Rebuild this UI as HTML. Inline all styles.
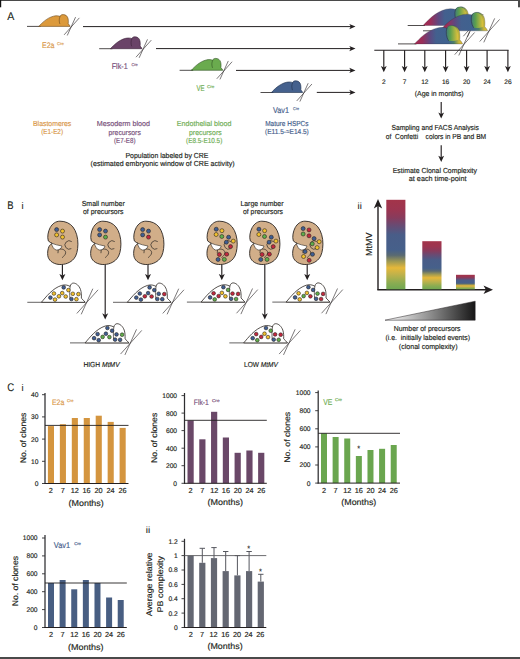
<!DOCTYPE html><html><head><meta charset="utf-8"><title>Figure</title><style>html,body{margin:0;padding:0;background:#fff;width:520px;height:659px;overflow:hidden}svg{display:block}text{font-family:"Liberation Sans",sans-serif}</style></head><body>
<svg width="520" height="659" viewBox="0 0 520 659" text-rendering="geometricPrecision">
<defs><linearGradient id="gbody" x1="0" y1="0" x2="1" y2="0"><stop offset="0" stop-color="#a62a50"/><stop offset="0.16" stop-color="#9a2d58"/><stop offset="0.32" stop-color="#5e4880"/><stop offset="0.45" stop-color="#43608e"/><stop offset="0.70" stop-color="#3f628f"/><stop offset="0.82" stop-color="#4c8068"/><stop offset="0.92" stop-color="#c4b43a"/><stop offset="1" stop-color="#e8c23a"/></linearGradient><linearGradient id="gear" x1="0" y1="0" x2="1" y2="0"><stop offset="0" stop-color="#3f7a7c"/><stop offset="0.35" stop-color="#5c9f4e"/><stop offset="1" stop-color="#e3c23a"/></linearGradient><linearGradient id="gbar" x1="0" y1="0" x2="0" y2="1"><stop offset="0" stop-color="#a3344a"/><stop offset="0.11" stop-color="#9c3550"/><stop offset="0.20" stop-color="#883b5c"/><stop offset="0.28" stop-color="#6a4a72"/><stop offset="0.39" stop-color="#495d88"/><stop offset="0.56" stop-color="#46608a"/><stop offset="0.62" stop-color="#5a6a72"/><stop offset="0.69" stop-color="#a09a52"/><stop offset="0.76" stop-color="#e6b83a"/><stop offset="0.83" stop-color="#c2b24a"/><stop offset="0.93" stop-color="#8aac52"/><stop offset="1" stop-color="#70a852"/></linearGradient><linearGradient id="gtri" x1="0" y1="0" x2="1" y2="0"><stop offset="0" stop-color="#ffffff"/><stop offset="0.45" stop-color="#9a9a9a"/><stop offset="1" stop-color="#161616"/></linearGradient></defs>
<rect x="0" y="0" width="520" height="659" fill="#ffffff"/>
<text x="7.20" y="20.40" font-size="11.2" fill="#231f20" stroke="#231f20" stroke-width="0.096" text-anchor="start" textLength="7.10" lengthAdjust="spacingAndGlyphs">A</text>
<line x1="27.00" y1="26.40" x2="40.70" y2="26.40" stroke="#231f20" stroke-width="0.8"/>
<g transform="translate(38.70,26.40) scale(0.3140,0.1180)"><path d="M0,0 C10,-26 25,-72 48,-87 C56,-92 63,-90 68,-85 C69,-95 73,-100 78,-100 C86,-100 92,-86 93.5,-66 C95,-46 94.5,-32 94,-22 C97,-15 99,-7 100,0 Z" fill="#dc9a3c" stroke="#6b4a20" stroke-width="0.6" vector-effect="non-scaling-stroke"/><path d="M68.5,-86 C64.5,-66 64.5,-42 67.5,-20" fill="none" stroke="#6b4a20" stroke-width="0.6" vector-effect="non-scaling-stroke"/></g>
<line x1="64.12" y1="34.85" x2="79.35" y2="17.89" stroke="#231f20" stroke-width="0.6"/>
<line x1="67.26" y1="35.48" x2="75.58" y2="17.11" stroke="#231f20" stroke-width="0.6"/>
<line x1="99.20" y1="48.70" x2="112.40" y2="48.70" stroke="#231f20" stroke-width="0.8"/>
<g transform="translate(110.40,48.70) scale(0.3160,0.1190)"><path d="M0,0 C10,-26 25,-72 48,-87 C56,-92 63,-90 68,-85 C69,-95 73,-100 78,-100 C86,-100 92,-86 93.5,-66 C95,-46 94.5,-32 94,-22 C97,-15 99,-7 100,0 Z" fill="#6a4368" stroke="#3a2238" stroke-width="0.6" vector-effect="non-scaling-stroke"/><path d="M68.5,-86 C64.5,-66 64.5,-42 67.5,-20" fill="none" stroke="#3a2238" stroke-width="0.6" vector-effect="non-scaling-stroke"/></g>
<line x1="135.98" y1="57.20" x2="151.31" y2="40.14" stroke="#231f20" stroke-width="0.6"/>
<line x1="139.14" y1="57.83" x2="147.51" y2="39.35" stroke="#231f20" stroke-width="0.6"/>
<line x1="179.60" y1="70.30" x2="193.20" y2="70.30" stroke="#231f20" stroke-width="0.8"/>
<g transform="translate(191.20,70.30) scale(0.3160,0.1190)"><path d="M0,0 C10,-26 25,-72 48,-87 C56,-92 63,-90 68,-85 C69,-95 73,-100 78,-100 C86,-100 92,-86 93.5,-66 C95,-46 94.5,-32 94,-22 C97,-15 99,-7 100,0 Z" fill="#6aab4e" stroke="#2f5224" stroke-width="0.6" vector-effect="non-scaling-stroke"/><path d="M68.5,-86 C64.5,-66 64.5,-42 67.5,-20" fill="none" stroke="#2f5224" stroke-width="0.6" vector-effect="non-scaling-stroke"/></g>
<line x1="216.78" y1="78.80" x2="232.11" y2="61.74" stroke="#231f20" stroke-width="0.6"/>
<line x1="219.94" y1="79.43" x2="228.31" y2="60.95" stroke="#231f20" stroke-width="0.6"/>
<line x1="260.50" y1="92.50" x2="273.30" y2="92.50" stroke="#231f20" stroke-width="0.8"/>
<g transform="translate(271.30,92.50) scale(0.3140,0.1170)"><path d="M0,0 C10,-26 25,-72 48,-87 C56,-92 63,-90 68,-85 C69,-95 73,-100 78,-100 C86,-100 92,-86 93.5,-66 C95,-46 94.5,-32 94,-22 C97,-15 99,-7 100,0 Z" fill="#45618d" stroke="#1f2f4a" stroke-width="0.6" vector-effect="non-scaling-stroke"/><path d="M68.5,-86 C64.5,-66 64.5,-42 67.5,-20" fill="none" stroke="#1f2f4a" stroke-width="0.6" vector-effect="non-scaling-stroke"/></g>
<line x1="296.72" y1="100.95" x2="311.95" y2="83.99" stroke="#231f20" stroke-width="0.6"/>
<line x1="299.86" y1="101.58" x2="308.18" y2="83.21" stroke="#231f20" stroke-width="0.6"/>
<line x1="83.00" y1="26.60" x2="351.10" y2="26.60" stroke="#231f20" stroke-width="1.0"/>
<path d="M355.50,26.60 L349.30,29.20 L350.80,26.60 L349.30,24.00 Z" fill="#231f20"/>
<line x1="156.00" y1="48.60" x2="351.10" y2="48.60" stroke="#231f20" stroke-width="1.0"/>
<path d="M355.50,48.60 L349.30,51.20 L350.80,48.60 L349.30,46.00 Z" fill="#231f20"/>
<line x1="236.00" y1="70.40" x2="351.10" y2="70.40" stroke="#231f20" stroke-width="1.0"/>
<path d="M355.50,70.40 L349.30,73.00 L350.80,70.40 L349.30,67.80 Z" fill="#231f20"/>
<line x1="316.80" y1="92.40" x2="351.10" y2="92.40" stroke="#231f20" stroke-width="1.0"/>
<path d="M355.50,92.40 L349.30,95.00 L350.80,92.40 L349.30,89.80 Z" fill="#231f20"/>
<text x="42.00" y="47.50" font-size="8.2" fill="#d9984a" stroke="#d9984a" stroke-width="0.16" text-anchor="start" textLength="12.50" lengthAdjust="spacingAndGlyphs">E2a</text>
<text x="57.10" y="44.60" font-size="4.2" fill="#d9984a" stroke="#d9984a" stroke-width="0.16" text-anchor="start" textLength="6.70" lengthAdjust="spacingAndGlyphs">Cre</text>
<text x="111.70" y="69.40" font-size="8.2" fill="#78507a" stroke="#78507a" stroke-width="0.16" text-anchor="start" textLength="16.00" lengthAdjust="spacingAndGlyphs">Flk-1</text>
<text x="131.50" y="66.20" font-size="4.2" fill="#78507a" stroke="#78507a" stroke-width="0.16" text-anchor="start" textLength="6.20" lengthAdjust="spacingAndGlyphs">Cre</text>
<text x="196.50" y="91.30" font-size="8.2" fill="#6fae55" stroke="#6fae55" stroke-width="0.16" text-anchor="start" textLength="8.10" lengthAdjust="spacingAndGlyphs">VE</text>
<text x="207.00" y="88.00" font-size="4.2" fill="#6fae55" stroke="#6fae55" stroke-width="0.16" text-anchor="start" textLength="7.40" lengthAdjust="spacingAndGlyphs">Cre</text>
<text x="273.10" y="113.10" font-size="8.2" fill="#46608c" stroke="#46608c" stroke-width="0.16" text-anchor="start" textLength="15.90" lengthAdjust="spacingAndGlyphs">Vav1</text>
<text x="293.10" y="110.00" font-size="4.2" fill="#46608c" stroke="#46608c" stroke-width="0.16" text-anchor="start" textLength="5.90" lengthAdjust="spacingAndGlyphs">Cre</text>
<text x="33.00" y="125.60" font-size="7.3" fill="#d9984a" stroke="#d9984a" stroke-width="0.16" text-anchor="start" textLength="38.30" lengthAdjust="spacingAndGlyphs">Blastomeres</text>
<text x="41.20" y="134.40" font-size="7.3" fill="#d9984a" stroke="#d9984a" stroke-width="0.16" text-anchor="start" textLength="21.80" lengthAdjust="spacingAndGlyphs">(E1-E2)</text>
<text x="96.80" y="125.80" font-size="7.3" fill="#78507a" stroke="#78507a" stroke-width="0.16" text-anchor="start" textLength="53.20" lengthAdjust="spacingAndGlyphs">Mesoderm blood</text>
<text x="108.50" y="134.60" font-size="7.3" fill="#78507a" stroke="#78507a" stroke-width="0.16" text-anchor="start" textLength="32.30" lengthAdjust="spacingAndGlyphs">precursors</text>
<text x="114.00" y="143.20" font-size="7.3" fill="#78507a" stroke="#78507a" stroke-width="0.16" text-anchor="start" textLength="21.50" lengthAdjust="spacingAndGlyphs">(E7-E8)</text>
<text x="176.80" y="125.80" font-size="7.3" fill="#6fae55" stroke="#6fae55" stroke-width="0.16" text-anchor="start" textLength="54.70" lengthAdjust="spacingAndGlyphs">Endothelial blood</text>
<text x="189.00" y="134.60" font-size="7.3" fill="#6fae55" stroke="#6fae55" stroke-width="0.16" text-anchor="start" textLength="32.70" lengthAdjust="spacingAndGlyphs">precursors</text>
<text x="186.00" y="143.20" font-size="7.3" fill="#6fae55" stroke="#6fae55" stroke-width="0.16" text-anchor="start" textLength="36.30" lengthAdjust="spacingAndGlyphs">(E8.5-E10.5)</text>
<text x="265.20" y="125.60" font-size="7.3" fill="#46608c" stroke="#46608c" stroke-width="0.16" text-anchor="start" textLength="43.30" lengthAdjust="spacingAndGlyphs">Mature HSPCs</text>
<text x="265.00" y="133.60" font-size="7.3" fill="#46608c" stroke="#46608c" stroke-width="0.16" text-anchor="start" textLength="43.80" lengthAdjust="spacingAndGlyphs">(E11.5-≈E14.5)</text>
<text x="125.40" y="158.30" font-size="7.3" fill="#231f20" stroke="#231f20" stroke-width="0.16" text-anchor="start" textLength="83.10" lengthAdjust="spacingAndGlyphs">Population labeled by CRE</text>
<text x="90.60" y="166.30" font-size="7.3" fill="#231f20" stroke="#231f20" stroke-width="0.16" text-anchor="start" textLength="144.00" lengthAdjust="spacingAndGlyphs">(estimated embryonic window of CRE activity)</text>
<line x1="407.70" y1="25.50" x2="425.00" y2="25.50" stroke="#231f20" stroke-width="0.8"/>
<g transform="translate(423.00,25.50) scale(0.4820,0.1870)"><path d="M0,0 C10,-26 25,-72 48,-87 C56,-92 63,-90 68,-85 C69,-95 73,-100 78,-100 C86,-100 92,-86 93.5,-66 C95,-46 94.5,-32 94,-22 C97,-15 99,-7 100,0 Z" fill="url(#gbody)"/><path d="M67,-85 C68,-95 72,-100 76.5,-99.5 C82,-98 87,-88 89,-72 C90.5,-58 91,-40 91,-22 C86,-16 77,-14 71,-16 C66,-38 65,-64 67,-85 Z" fill="url(#gear)"/><path d="M67.5,-87 C64.8,-64 66,-38 71,-16" fill="none" stroke="#2c2c3a" stroke-width="0.55" vector-effect="non-scaling-stroke"/><path d="M0,0 C10,-26 25,-72 48,-87 C56,-92 63,-90 68,-85 C69,-95 73,-100 78,-100 C86,-100 92,-86 93.5,-66 C95,-46 94.5,-32 94,-22 C97,-15 99,-7 100,0 Z" fill="none" stroke="#2c2c3a" stroke-width="0.35" stroke-opacity="0.8" vector-effect="non-scaling-stroke"/></g>
<line x1="463.31" y1="36.24" x2="483.18" y2="14.12" stroke="#231f20" stroke-width="0.6"/>
<line x1="467.40" y1="37.06" x2="478.26" y2="13.09" stroke="#231f20" stroke-width="0.6"/>
<line x1="423.00" y1="30.80" x2="441.40" y2="30.80" stroke="#231f20" stroke-width="0.8"/>
<g transform="translate(439.40,30.80) scale(0.4820,0.1850)"><path d="M0,0 C10,-26 25,-72 48,-87 C56,-92 63,-90 68,-85 C69,-95 73,-100 78,-100 C86,-100 92,-86 93.5,-66 C95,-46 94.5,-32 94,-22 C97,-15 99,-7 100,0 Z" fill="url(#gbody)"/><path d="M67,-85 C68,-95 72,-100 76.5,-99.5 C82,-98 87,-88 89,-72 C90.5,-58 91,-40 91,-22 C86,-16 77,-14 71,-16 C66,-38 65,-64 67,-85 Z" fill="url(#gear)"/><path d="M67.5,-87 C64.8,-64 66,-38 71,-16" fill="none" stroke="#2c2c3a" stroke-width="0.55" vector-effect="non-scaling-stroke"/><path d="M0,0 C10,-26 25,-72 48,-87 C56,-92 63,-90 68,-85 C69,-95 73,-100 78,-100 C86,-100 92,-86 93.5,-66 C95,-46 94.5,-32 94,-22 C97,-15 99,-7 100,0 Z" fill="none" stroke="#2c2c3a" stroke-width="0.35" stroke-opacity="0.8" vector-effect="non-scaling-stroke"/></g>
<line x1="479.71" y1="41.54" x2="499.58" y2="19.42" stroke="#231f20" stroke-width="0.6"/>
<line x1="483.80" y1="42.36" x2="494.66" y2="18.39" stroke="#231f20" stroke-width="0.6"/>
<line x1="398.00" y1="43.90" x2="416.40" y2="43.90" stroke="#231f20" stroke-width="0.8"/>
<g transform="translate(414.40,43.90) scale(0.4820,0.1840)"><path d="M0,0 C10,-26 25,-72 48,-87 C56,-92 63,-90 68,-85 C69,-95 73,-100 78,-100 C86,-100 92,-86 93.5,-66 C95,-46 94.5,-32 94,-22 C97,-15 99,-7 100,0 Z" fill="url(#gbody)"/><path d="M67,-85 C68,-95 72,-100 76.5,-99.5 C82,-98 87,-88 89,-72 C90.5,-58 91,-40 91,-22 C86,-16 77,-14 71,-16 C66,-38 65,-64 67,-85 Z" fill="url(#gear)"/><path d="M67.5,-87 C64.8,-64 66,-38 71,-16" fill="none" stroke="#2c2c3a" stroke-width="0.55" vector-effect="non-scaling-stroke"/><path d="M0,0 C10,-26 25,-72 48,-87 C56,-92 63,-90 68,-85 C69,-95 73,-100 78,-100 C86,-100 92,-86 93.5,-66 C95,-46 94.5,-32 94,-22 C97,-15 99,-7 100,0 Z" fill="none" stroke="#2c2c3a" stroke-width="0.35" stroke-opacity="0.8" vector-effect="non-scaling-stroke"/></g>
<line x1="454.71" y1="54.64" x2="474.58" y2="32.52" stroke="#231f20" stroke-width="0.6"/>
<line x1="458.80" y1="55.46" x2="469.66" y2="31.49" stroke="#231f20" stroke-width="0.6"/>
<line x1="374.30" y1="50.20" x2="508.60" y2="50.20" stroke="#231f20" stroke-width="1.15"/>
<line x1="383.80" y1="50.20" x2="383.80" y2="67.80" stroke="#231f20" stroke-width="1.15"/>
<path d="M383.80,72.20 L380.90,66.00 L383.80,67.50 L386.70,66.00 Z" fill="#231f20"/>
<text x="383.80" y="83.90" font-size="6.6" fill="#231f20" stroke="#231f20" stroke-width="0.16" text-anchor="middle">2</text>
<line x1="404.60" y1="50.20" x2="404.60" y2="67.80" stroke="#231f20" stroke-width="1.15"/>
<path d="M404.60,72.20 L401.70,66.00 L404.60,67.50 L407.50,66.00 Z" fill="#231f20"/>
<text x="404.60" y="83.90" font-size="6.6" fill="#231f20" stroke="#231f20" stroke-width="0.16" text-anchor="middle">7</text>
<line x1="424.80" y1="50.20" x2="424.80" y2="67.80" stroke="#231f20" stroke-width="1.15"/>
<path d="M424.80,72.20 L421.90,66.00 L424.80,67.50 L427.70,66.00 Z" fill="#231f20"/>
<text x="424.80" y="83.90" font-size="6.6" fill="#231f20" stroke="#231f20" stroke-width="0.16" text-anchor="middle">12</text>
<line x1="445.60" y1="50.20" x2="445.60" y2="67.80" stroke="#231f20" stroke-width="1.15"/>
<path d="M445.60,72.20 L442.70,66.00 L445.60,67.50 L448.50,66.00 Z" fill="#231f20"/>
<text x="445.60" y="83.90" font-size="6.6" fill="#231f20" stroke="#231f20" stroke-width="0.16" text-anchor="middle">16</text>
<line x1="466.60" y1="50.20" x2="466.60" y2="67.80" stroke="#231f20" stroke-width="1.15"/>
<path d="M466.60,72.20 L463.70,66.00 L466.60,67.50 L469.50,66.00 Z" fill="#231f20"/>
<text x="466.60" y="83.90" font-size="6.6" fill="#231f20" stroke="#231f20" stroke-width="0.16" text-anchor="middle">20</text>
<line x1="487.10" y1="50.20" x2="487.10" y2="67.80" stroke="#231f20" stroke-width="1.15"/>
<path d="M487.10,72.20 L484.20,66.00 L487.10,67.50 L490.00,66.00 Z" fill="#231f20"/>
<text x="487.10" y="83.90" font-size="6.6" fill="#231f20" stroke="#231f20" stroke-width="0.16" text-anchor="middle">24</text>
<line x1="507.90" y1="50.20" x2="507.90" y2="67.80" stroke="#231f20" stroke-width="1.15"/>
<path d="M507.90,72.20 L505.00,66.00 L507.90,67.50 L510.80,66.00 Z" fill="#231f20"/>
<text x="507.90" y="83.90" font-size="6.6" fill="#231f20" stroke="#231f20" stroke-width="0.16" text-anchor="middle">26</text>
<text x="414.70" y="95.70" font-size="7.3" fill="#231f20" stroke="#231f20" stroke-width="0.16" text-anchor="start" textLength="49.00" lengthAdjust="spacingAndGlyphs">(Age in months)</text>
<line x1="441.20" y1="101.90" x2="441.20" y2="114.20" stroke="#231f20" stroke-width="1.15"/>
<path d="M441.20,118.60 L438.30,112.40 L441.20,113.90 L444.10,112.40 Z" fill="#231f20"/>
<text x="391.50" y="129.60" font-size="7.3" fill="#231f20" stroke="#231f20" stroke-width="0.16" text-anchor="start" textLength="87.30" lengthAdjust="spacingAndGlyphs">Sampling and FACS Analysis</text>
<text x="385.80" y="138.80" font-size="7.3" fill="#231f20" stroke="#231f20" stroke-width="0.16" text-anchor="start" textLength="100.40" lengthAdjust="spacingAndGlyphs" xml:space="preserve">of  Confetti    colors in PB and BM</text>
<line x1="441.20" y1="145.30" x2="441.20" y2="157.60" stroke="#231f20" stroke-width="1.15"/>
<path d="M441.20,162.00 L438.30,155.80 L441.20,157.30 L444.10,155.80 Z" fill="#231f20"/>
<text x="392.70" y="173.00" font-size="7.3" fill="#231f20" stroke="#231f20" stroke-width="0.16" text-anchor="start" textLength="84.30" lengthAdjust="spacingAndGlyphs">Estimate Clonal Complexity</text>
<text x="408.80" y="180.80" font-size="7.3" fill="#231f20" stroke="#231f20" stroke-width="0.16" text-anchor="start" textLength="57.70" lengthAdjust="spacingAndGlyphs">at each time-point</text>
<text x="7.30" y="208.70" font-size="11.2" fill="#231f20" stroke="#231f20" stroke-width="0.096" text-anchor="start" textLength="6.30" lengthAdjust="spacingAndGlyphs">B</text>
<text x="21.60" y="208.70" font-size="9.4" fill="#231f20" stroke="#231f20" stroke-width="0.096" text-anchor="start">i</text>
<text x="81.70" y="205.90" font-size="7.3" fill="#231f20" stroke="#231f20" stroke-width="0.16" text-anchor="start" textLength="43.10" lengthAdjust="spacingAndGlyphs">Small number</text>
<text x="83.00" y="214.00" font-size="7.3" fill="#231f20" stroke="#231f20" stroke-width="0.16" text-anchor="start" textLength="40.50" lengthAdjust="spacingAndGlyphs">of precursors</text>
<text x="240.40" y="206.00" font-size="7.3" fill="#231f20" stroke="#231f20" stroke-width="0.16" text-anchor="start" textLength="43.10" lengthAdjust="spacingAndGlyphs">Large number</text>
<text x="243.00" y="214.00" font-size="7.3" fill="#231f20" stroke="#231f20" stroke-width="0.16" text-anchor="start" textLength="40.00" lengthAdjust="spacingAndGlyphs">of precursors</text>
<g transform="translate(47.20,221.20) scale(1.014,1)"><path d="M12.5,0 C8.5,0 5,2.5 2.9,6.5 C1,10.2 -0.2,15.5 1.1,19.7 C2.4,20.9 3.8,21.7 5.2,22.3 C3.7,22.9 2.4,23.8 1.7,25.5 C0.6,28 0.2,31.5 0.6,34.5 C1.2,38.6 4.8,42.6 11.8,43.3 C17.5,43.7 23,41.5 26.3,37.6 C29,34.5 30.2,29 30.3,23 C30.4,16.5 28.6,10 25.4,5.8 C22.4,2 18,0 12.5,0 Z" fill="#d1ae89" stroke="#2b2622" stroke-width="0.9" vector-effect="non-scaling-stroke"/><path d="M4,21.9 C7.2,23.2 11.2,24.3 14.6,24.8 C13.8,27.9 11.4,29.2 8.8,28.8 C6.6,28.2 5.1,25.7 4,21.9 Z" fill="#ffffff" stroke="#2b2622" stroke-width="0.6" vector-effect="non-scaling-stroke"/><path d="M24.2,20.4 A4.2,4.2 0 1 0 23.8,27.4" fill="none" stroke="#2b2622" stroke-width="0.7" vector-effect="non-scaling-stroke"/><path d="M10.6,32 L10.9,28.5 M12.1,28 C15.2,27.3 18.3,29 18.2,31.6 C18.1,33.8 15.9,34.9 14.9,36.6" fill="none" stroke="#2b2622" stroke-width="0.7" vector-effect="non-scaling-stroke"/></g>
<circle cx="56.63" cy="229.60" r="2.0" fill="#3f5e93" stroke="#2b2622" stroke-width="0.6"/>
<circle cx="62.50" cy="231.10" r="2.0" fill="#f2c12e" stroke="#2b2622" stroke-width="0.6"/>
<circle cx="56.63" cy="234.90" r="2.0" fill="#f2c12e" stroke="#2b2622" stroke-width="0.6"/>
<circle cx="62.50" cy="237.10" r="2.0" fill="#f2c12e" stroke="#2b2622" stroke-width="0.6"/>
<g transform="translate(90.20,221.20) scale(1.014,1)"><path d="M12.5,0 C8.5,0 5,2.5 2.9,6.5 C1,10.2 -0.2,15.5 1.1,19.7 C2.4,20.9 3.8,21.7 5.2,22.3 C3.7,22.9 2.4,23.8 1.7,25.5 C0.6,28 0.2,31.5 0.6,34.5 C1.2,38.6 4.8,42.6 11.8,43.3 C17.5,43.7 23,41.5 26.3,37.6 C29,34.5 30.2,29 30.3,23 C30.4,16.5 28.6,10 25.4,5.8 C22.4,2 18,0 12.5,0 Z" fill="#d1ae89" stroke="#2b2622" stroke-width="0.9" vector-effect="non-scaling-stroke"/><path d="M4,21.9 C7.2,23.2 11.2,24.3 14.6,24.8 C13.8,27.9 11.4,29.2 8.8,28.8 C6.6,28.2 5.1,25.7 4,21.9 Z" fill="#ffffff" stroke="#2b2622" stroke-width="0.6" vector-effect="non-scaling-stroke"/><path d="M24.2,20.4 A4.2,4.2 0 1 0 23.8,27.4" fill="none" stroke="#2b2622" stroke-width="0.7" vector-effect="non-scaling-stroke"/><path d="M10.6,32 L10.9,28.5 M12.1,28 C15.2,27.3 18.3,29 18.2,31.6 C18.1,33.8 15.9,34.9 14.9,36.6" fill="none" stroke="#2b2622" stroke-width="0.7" vector-effect="non-scaling-stroke"/></g>
<circle cx="99.63" cy="229.60" r="2.0" fill="#3f5e93" stroke="#2b2622" stroke-width="0.6"/>
<circle cx="105.50" cy="231.10" r="2.0" fill="#3f5e93" stroke="#2b2622" stroke-width="0.6"/>
<circle cx="99.63" cy="234.90" r="2.0" fill="#3f5e93" stroke="#2b2622" stroke-width="0.6"/>
<circle cx="105.50" cy="237.10" r="2.0" fill="#5fae4a" stroke="#2b2622" stroke-width="0.6"/>
<g transform="translate(133.20,221.20) scale(1.014,1)"><path d="M12.5,0 C8.5,0 5,2.5 2.9,6.5 C1,10.2 -0.2,15.5 1.1,19.7 C2.4,20.9 3.8,21.7 5.2,22.3 C3.7,22.9 2.4,23.8 1.7,25.5 C0.6,28 0.2,31.5 0.6,34.5 C1.2,38.6 4.8,42.6 11.8,43.3 C17.5,43.7 23,41.5 26.3,37.6 C29,34.5 30.2,29 30.3,23 C30.4,16.5 28.6,10 25.4,5.8 C22.4,2 18,0 12.5,0 Z" fill="#d1ae89" stroke="#2b2622" stroke-width="0.9" vector-effect="non-scaling-stroke"/><path d="M4,21.9 C7.2,23.2 11.2,24.3 14.6,24.8 C13.8,27.9 11.4,29.2 8.8,28.8 C6.6,28.2 5.1,25.7 4,21.9 Z" fill="#ffffff" stroke="#2b2622" stroke-width="0.6" vector-effect="non-scaling-stroke"/><path d="M24.2,20.4 A4.2,4.2 0 1 0 23.8,27.4" fill="none" stroke="#2b2622" stroke-width="0.7" vector-effect="non-scaling-stroke"/><path d="M10.6,32 L10.9,28.5 M12.1,28 C15.2,27.3 18.3,29 18.2,31.6 C18.1,33.8 15.9,34.9 14.9,36.6" fill="none" stroke="#2b2622" stroke-width="0.7" vector-effect="non-scaling-stroke"/></g>
<circle cx="142.63" cy="229.60" r="2.0" fill="#3f5e93" stroke="#2b2622" stroke-width="0.6"/>
<circle cx="148.50" cy="231.10" r="2.0" fill="#3f5e93" stroke="#2b2622" stroke-width="0.6"/>
<circle cx="142.63" cy="234.90" r="2.0" fill="#3f5e93" stroke="#2b2622" stroke-width="0.6"/>
<circle cx="148.50" cy="237.10" r="2.0" fill="#c3283f" stroke="#2b2622" stroke-width="0.6"/>
<g transform="translate(206.50,221.20) scale(1.014,1)"><path d="M12.5,0 C8.5,0 5,2.5 2.9,6.5 C1,10.2 -0.2,15.5 1.1,19.7 C2.4,20.9 3.8,21.7 5.2,22.3 C3.7,22.9 2.4,23.8 1.7,25.5 C0.6,28 0.2,31.5 0.6,34.5 C1.2,38.6 4.8,42.6 11.8,43.3 C17.5,43.7 23,41.5 26.3,37.6 C29,34.5 30.2,29 30.3,23 C30.4,16.5 28.6,10 25.4,5.8 C22.4,2 18,0 12.5,0 Z" fill="#d1ae89" stroke="#2b2622" stroke-width="0.9" vector-effect="non-scaling-stroke"/><path d="M4,21.9 C7.2,23.2 11.2,24.3 14.6,24.8 C13.8,27.9 11.4,29.2 8.8,28.8 C6.6,28.2 5.1,25.7 4,21.9 Z" fill="#ffffff" stroke="#2b2622" stroke-width="0.6" vector-effect="non-scaling-stroke"/><path d="M24.2,20.4 A4.2,4.2 0 1 0 23.8,27.4" fill="none" stroke="#2b2622" stroke-width="0.7" vector-effect="non-scaling-stroke"/><path d="M10.6,32 L10.9,28.5 M12.1,28 C15.2,27.3 18.3,29 18.2,31.6 C18.1,33.8 15.9,34.9 14.9,36.6" fill="none" stroke="#2b2622" stroke-width="0.7" vector-effect="non-scaling-stroke"/></g>
<circle cx="216.23" cy="229.20" r="2.0" fill="#3f5e93" stroke="#2b2622" stroke-width="0.6"/>
<circle cx="221.91" cy="230.70" r="2.0" fill="#f2c12e" stroke="#2b2622" stroke-width="0.6"/>
<circle cx="216.13" cy="234.50" r="2.0" fill="#f2c12e" stroke="#2b2622" stroke-width="0.6"/>
<circle cx="221.80" cy="236.50" r="2.0" fill="#5fae4a" stroke="#2b2622" stroke-width="0.6"/>
<circle cx="228.59" cy="237.20" r="2.0" fill="#3f5e93" stroke="#2b2622" stroke-width="0.6"/>
<circle cx="233.26" cy="241.10" r="2.0" fill="#f2c12e" stroke="#2b2622" stroke-width="0.6"/>
<circle cx="226.36" cy="242.20" r="2.0" fill="#3f5e93" stroke="#2b2622" stroke-width="0.6"/>
<circle cx="230.52" cy="246.60" r="2.0" fill="#c3283f" stroke="#2b2622" stroke-width="0.6"/>
<circle cx="219.37" cy="254.50" r="2.0" fill="#c3283f" stroke="#2b2622" stroke-width="0.6"/>
<circle cx="226.67" cy="254.20" r="2.0" fill="#c3283f" stroke="#2b2622" stroke-width="0.6"/>
<circle cx="218.05" cy="259.50" r="2.0" fill="#3f5e93" stroke="#2b2622" stroke-width="0.6"/>
<circle cx="224.34" cy="259.40" r="2.0" fill="#5fae4a" stroke="#2b2622" stroke-width="0.6"/>
<g transform="translate(249.20,221.20) scale(1.014,1)"><path d="M12.5,0 C8.5,0 5,2.5 2.9,6.5 C1,10.2 -0.2,15.5 1.1,19.7 C2.4,20.9 3.8,21.7 5.2,22.3 C3.7,22.9 2.4,23.8 1.7,25.5 C0.6,28 0.2,31.5 0.6,34.5 C1.2,38.6 4.8,42.6 11.8,43.3 C17.5,43.7 23,41.5 26.3,37.6 C29,34.5 30.2,29 30.3,23 C30.4,16.5 28.6,10 25.4,5.8 C22.4,2 18,0 12.5,0 Z" fill="#d1ae89" stroke="#2b2622" stroke-width="0.9" vector-effect="non-scaling-stroke"/><path d="M4,21.9 C7.2,23.2 11.2,24.3 14.6,24.8 C13.8,27.9 11.4,29.2 8.8,28.8 C6.6,28.2 5.1,25.7 4,21.9 Z" fill="#ffffff" stroke="#2b2622" stroke-width="0.6" vector-effect="non-scaling-stroke"/><path d="M24.2,20.4 A4.2,4.2 0 1 0 23.8,27.4" fill="none" stroke="#2b2622" stroke-width="0.7" vector-effect="non-scaling-stroke"/><path d="M10.6,32 L10.9,28.5 M12.1,28 C15.2,27.3 18.3,29 18.2,31.6 C18.1,33.8 15.9,34.9 14.9,36.6" fill="none" stroke="#2b2622" stroke-width="0.7" vector-effect="non-scaling-stroke"/></g>
<circle cx="258.93" cy="229.20" r="2.0" fill="#3f5e93" stroke="#2b2622" stroke-width="0.6"/>
<circle cx="264.61" cy="230.70" r="2.0" fill="#f2c12e" stroke="#2b2622" stroke-width="0.6"/>
<circle cx="258.83" cy="234.50" r="2.0" fill="#f2c12e" stroke="#2b2622" stroke-width="0.6"/>
<circle cx="264.50" cy="236.50" r="2.0" fill="#5fae4a" stroke="#2b2622" stroke-width="0.6"/>
<circle cx="271.29" cy="237.20" r="2.0" fill="#3f5e93" stroke="#2b2622" stroke-width="0.6"/>
<circle cx="275.96" cy="241.10" r="2.0" fill="#f2c12e" stroke="#2b2622" stroke-width="0.6"/>
<circle cx="269.06" cy="242.20" r="2.0" fill="#3f5e93" stroke="#2b2622" stroke-width="0.6"/>
<circle cx="273.22" cy="246.60" r="2.0" fill="#c3283f" stroke="#2b2622" stroke-width="0.6"/>
<circle cx="262.07" cy="254.50" r="2.0" fill="#c3283f" stroke="#2b2622" stroke-width="0.6"/>
<circle cx="269.37" cy="254.20" r="2.0" fill="#c3283f" stroke="#2b2622" stroke-width="0.6"/>
<circle cx="260.75" cy="259.50" r="2.0" fill="#3f5e93" stroke="#2b2622" stroke-width="0.6"/>
<circle cx="267.04" cy="259.40" r="2.0" fill="#5fae4a" stroke="#2b2622" stroke-width="0.6"/>
<g transform="translate(292.20,221.20) scale(1.014,1)"><path d="M12.5,0 C8.5,0 5,2.5 2.9,6.5 C1,10.2 -0.2,15.5 1.1,19.7 C2.4,20.9 3.8,21.7 5.2,22.3 C3.7,22.9 2.4,23.8 1.7,25.5 C0.6,28 0.2,31.5 0.6,34.5 C1.2,38.6 4.8,42.6 11.8,43.3 C17.5,43.7 23,41.5 26.3,37.6 C29,34.5 30.2,29 30.3,23 C30.4,16.5 28.6,10 25.4,5.8 C22.4,2 18,0 12.5,0 Z" fill="#d1ae89" stroke="#2b2622" stroke-width="0.9" vector-effect="non-scaling-stroke"/><path d="M4,21.9 C7.2,23.2 11.2,24.3 14.6,24.8 C13.8,27.9 11.4,29.2 8.8,28.8 C6.6,28.2 5.1,25.7 4,21.9 Z" fill="#ffffff" stroke="#2b2622" stroke-width="0.6" vector-effect="non-scaling-stroke"/><path d="M24.2,20.4 A4.2,4.2 0 1 0 23.8,27.4" fill="none" stroke="#2b2622" stroke-width="0.7" vector-effect="non-scaling-stroke"/><path d="M10.6,32 L10.9,28.5 M12.1,28 C15.2,27.3 18.3,29 18.2,31.6 C18.1,33.8 15.9,34.9 14.9,36.6" fill="none" stroke="#2b2622" stroke-width="0.7" vector-effect="non-scaling-stroke"/></g>
<circle cx="303.15" cy="228.60" r="2.0" fill="#3f5e93" stroke="#2b2622" stroke-width="0.6"/>
<circle cx="309.02" cy="229.90" r="2.0" fill="#c3283f" stroke="#2b2622" stroke-width="0.6"/>
<circle cx="303.15" cy="234.00" r="2.0" fill="#5fae4a" stroke="#2b2622" stroke-width="0.6"/>
<circle cx="309.02" cy="235.80" r="2.0" fill="#c3283f" stroke="#2b2622" stroke-width="0.6"/>
<circle cx="314.09" cy="238.60" r="2.0" fill="#3f5e93" stroke="#2b2622" stroke-width="0.6"/>
<circle cx="319.16" cy="241.70" r="2.0" fill="#f2c12e" stroke="#2b2622" stroke-width="0.6"/>
<circle cx="312.27" cy="243.80" r="2.0" fill="#5fae4a" stroke="#2b2622" stroke-width="0.6"/>
<circle cx="317.13" cy="247.60" r="2.0" fill="#f2c12e" stroke="#2b2622" stroke-width="0.6"/>
<circle cx="305.07" cy="251.60" r="2.0" fill="#3f5e93" stroke="#2b2622" stroke-width="0.6"/>
<circle cx="312.47" cy="254.30" r="2.0" fill="#3f5e93" stroke="#2b2622" stroke-width="0.6"/>
<circle cx="303.55" cy="256.50" r="2.0" fill="#f2c12e" stroke="#2b2622" stroke-width="0.6"/>
<circle cx="309.13" cy="260.30" r="2.0" fill="#c3283f" stroke="#2b2622" stroke-width="0.6"/>
<line x1="62.40" y1="264.80" x2="62.40" y2="275.80" stroke="#231f20" stroke-width="1.15"/>
<path d="M62.40,280.20 L59.40,273.90 L62.40,275.50 L65.40,273.90 Z" fill="#231f20"/>
<line x1="148.00" y1="264.80" x2="148.00" y2="275.80" stroke="#231f20" stroke-width="1.15"/>
<path d="M148.00,280.20 L145.00,273.90 L148.00,275.50 L151.00,273.90 Z" fill="#231f20"/>
<line x1="221.80" y1="264.80" x2="221.80" y2="275.80" stroke="#231f20" stroke-width="1.15"/>
<path d="M221.80,280.20 L218.80,273.90 L221.80,275.50 L224.80,273.90 Z" fill="#231f20"/>
<line x1="307.20" y1="264.80" x2="307.20" y2="275.80" stroke="#231f20" stroke-width="1.15"/>
<path d="M307.20,280.20 L304.20,273.90 L307.20,275.50 L310.20,273.90 Z" fill="#231f20"/>
<line x1="105.20" y1="264.80" x2="105.20" y2="315.20" stroke="#231f20" stroke-width="1.15"/>
<path d="M105.20,319.60 L102.20,313.30 L105.20,314.90 L108.20,313.30 Z" fill="#231f20"/>
<line x1="264.80" y1="264.80" x2="264.80" y2="315.20" stroke="#231f20" stroke-width="1.15"/>
<path d="M264.80,319.60 L261.80,313.30 L264.80,314.90 L267.80,313.30 Z" fill="#231f20"/>
<line x1="27.30" y1="302.30" x2="85.20" y2="302.30" stroke="#231f20" stroke-width="0.7"/>
<g transform="translate(41.40,302.30) scale(0.4380,0.1940)"><path d="M0,0 C10,-26 25,-72 46,-87 C54,-92 60,-89 65.5,-82 C67,-94 70,-99 73,-99 C79.5,-99 86,-86 89.3,-66 C91.3,-52 91.6,-36 91.2,-21 C94.5,-14 97.5,-7 100,0 Z" fill="#ffffff" stroke="#2b2622" stroke-width="0.8" vector-effect="non-scaling-stroke"/><path d="M65.8,-83 C64.2,-62 64.2,-40 65.3,-18" fill="none" stroke="#2b2622" stroke-width="0.7" vector-effect="non-scaling-stroke"/></g>
<circle cx="63.70" cy="287.40" r="1.85" fill="#3f5e93" stroke="#2b2622" stroke-width="0.6"/>
<circle cx="68.40" cy="290.10" r="1.85" fill="#f2c12e" stroke="#2b2622" stroke-width="0.6"/>
<circle cx="53.90" cy="293.50" r="1.85" fill="#f2c12e" stroke="#2b2622" stroke-width="0.6"/>
<circle cx="62.20" cy="293.10" r="1.85" fill="#f2c12e" stroke="#2b2622" stroke-width="0.6"/>
<circle cx="58.90" cy="296.30" r="1.85" fill="#f2c12e" stroke="#2b2622" stroke-width="0.6"/>
<circle cx="65.70" cy="296.50" r="1.85" fill="#f2c12e" stroke="#2b2622" stroke-width="0.6"/>
<circle cx="72.80" cy="293.80" r="1.85" fill="#f2c12e" stroke="#2b2622" stroke-width="0.6"/>
<circle cx="78.40" cy="294.10" r="1.85" fill="#f2c12e" stroke="#2b2622" stroke-width="0.6"/>
<circle cx="50.40" cy="297.60" r="1.85" fill="#3f5e93" stroke="#2b2622" stroke-width="0.6"/>
<circle cx="55.00" cy="299.60" r="1.85" fill="#f2c12e" stroke="#2b2622" stroke-width="0.6"/>
<circle cx="71.40" cy="299.00" r="1.85" fill="#3f5e93" stroke="#2b2622" stroke-width="0.6"/>
<circle cx="76.40" cy="299.20" r="1.85" fill="#f2c12e" stroke="#2b2622" stroke-width="0.6"/>
<line x1="76.84" y1="313.45" x2="98.08" y2="289.80" stroke="#231f20" stroke-width="0.6"/>
<line x1="81.22" y1="314.33" x2="92.83" y2="288.70" stroke="#231f20" stroke-width="0.6"/>
<line x1="113.00" y1="302.30" x2="171.10" y2="302.30" stroke="#231f20" stroke-width="0.7"/>
<g transform="translate(127.30,302.30) scale(0.4380,0.1940)"><path d="M0,0 C10,-26 25,-72 46,-87 C54,-92 60,-89 65.5,-82 C67,-94 70,-99 73,-99 C79.5,-99 86,-86 89.3,-66 C91.3,-52 91.6,-36 91.2,-21 C94.5,-14 97.5,-7 100,0 Z" fill="#ffffff" stroke="#2b2622" stroke-width="0.8" vector-effect="non-scaling-stroke"/><path d="M65.8,-83 C64.2,-62 64.2,-40 65.3,-18" fill="none" stroke="#2b2622" stroke-width="0.7" vector-effect="non-scaling-stroke"/></g>
<circle cx="149.60" cy="287.40" r="1.85" fill="#3f5e93" stroke="#2b2622" stroke-width="0.6"/>
<circle cx="154.30" cy="290.10" r="1.85" fill="#3f5e93" stroke="#2b2622" stroke-width="0.6"/>
<circle cx="139.80" cy="293.50" r="1.85" fill="#3f5e93" stroke="#2b2622" stroke-width="0.6"/>
<circle cx="148.10" cy="293.10" r="1.85" fill="#3f5e93" stroke="#2b2622" stroke-width="0.6"/>
<circle cx="144.80" cy="296.30" r="1.85" fill="#c3283f" stroke="#2b2622" stroke-width="0.6"/>
<circle cx="151.60" cy="296.50" r="1.85" fill="#c3283f" stroke="#2b2622" stroke-width="0.6"/>
<circle cx="158.70" cy="293.80" r="1.85" fill="#3f5e93" stroke="#2b2622" stroke-width="0.6"/>
<circle cx="164.30" cy="294.10" r="1.85" fill="#c3283f" stroke="#2b2622" stroke-width="0.6"/>
<circle cx="136.30" cy="297.60" r="1.85" fill="#3f5e93" stroke="#2b2622" stroke-width="0.6"/>
<circle cx="140.90" cy="299.60" r="1.85" fill="#3f5e93" stroke="#2b2622" stroke-width="0.6"/>
<circle cx="157.30" cy="299.00" r="1.85" fill="#3f5e93" stroke="#2b2622" stroke-width="0.6"/>
<circle cx="162.30" cy="299.20" r="1.85" fill="#3f5e93" stroke="#2b2622" stroke-width="0.6"/>
<line x1="162.74" y1="313.45" x2="183.98" y2="289.80" stroke="#231f20" stroke-width="0.6"/>
<line x1="167.12" y1="314.33" x2="178.73" y2="288.70" stroke="#231f20" stroke-width="0.6"/>
<line x1="70.00" y1="342.90" x2="128.90" y2="342.90" stroke="#231f20" stroke-width="0.7"/>
<g transform="translate(85.10,342.90) scale(0.4380,0.1940)"><path d="M0,0 C10,-26 25,-72 46,-87 C54,-92 60,-89 65.5,-82 C67,-94 70,-99 73,-99 C79.5,-99 86,-86 89.3,-66 C91.3,-52 91.6,-36 91.2,-21 C94.5,-14 97.5,-7 100,0 Z" fill="#ffffff" stroke="#2b2622" stroke-width="0.8" vector-effect="non-scaling-stroke"/><path d="M65.8,-83 C64.2,-62 64.2,-40 65.3,-18" fill="none" stroke="#2b2622" stroke-width="0.7" vector-effect="non-scaling-stroke"/></g>
<circle cx="107.40" cy="328.00" r="1.85" fill="#3f5e93" stroke="#2b2622" stroke-width="0.6"/>
<circle cx="112.10" cy="330.70" r="1.85" fill="#3f5e93" stroke="#2b2622" stroke-width="0.6"/>
<circle cx="97.60" cy="334.10" r="1.85" fill="#3f5e93" stroke="#2b2622" stroke-width="0.6"/>
<circle cx="105.90" cy="333.70" r="1.85" fill="#3f5e93" stroke="#2b2622" stroke-width="0.6"/>
<circle cx="102.60" cy="336.90" r="1.85" fill="#5fae4a" stroke="#2b2622" stroke-width="0.6"/>
<circle cx="109.40" cy="337.10" r="1.85" fill="#5fae4a" stroke="#2b2622" stroke-width="0.6"/>
<circle cx="116.50" cy="334.40" r="1.85" fill="#3f5e93" stroke="#2b2622" stroke-width="0.6"/>
<circle cx="122.10" cy="334.70" r="1.85" fill="#5fae4a" stroke="#2b2622" stroke-width="0.6"/>
<circle cx="94.10" cy="338.20" r="1.85" fill="#3f5e93" stroke="#2b2622" stroke-width="0.6"/>
<circle cx="98.70" cy="340.20" r="1.85" fill="#3f5e93" stroke="#2b2622" stroke-width="0.6"/>
<circle cx="115.10" cy="339.60" r="1.85" fill="#3f5e93" stroke="#2b2622" stroke-width="0.6"/>
<circle cx="120.10" cy="339.80" r="1.85" fill="#3f5e93" stroke="#2b2622" stroke-width="0.6"/>
<line x1="120.54" y1="354.05" x2="141.78" y2="330.40" stroke="#231f20" stroke-width="0.6"/>
<line x1="124.92" y1="354.93" x2="136.53" y2="329.30" stroke="#231f20" stroke-width="0.6"/>
<line x1="186.90" y1="302.10" x2="244.90" y2="302.10" stroke="#231f20" stroke-width="0.7"/>
<g transform="translate(201.10,302.10) scale(0.4380,0.1940)"><path d="M0,0 C10,-26 25,-72 46,-87 C54,-92 60,-89 65.5,-82 C67,-94 70,-99 73,-99 C79.5,-99 86,-86 89.3,-66 C91.3,-52 91.6,-36 91.2,-21 C94.5,-14 97.5,-7 100,0 Z" fill="#ffffff" stroke="#2b2622" stroke-width="0.8" vector-effect="non-scaling-stroke"/><path d="M65.8,-83 C64.2,-62 64.2,-40 65.3,-18" fill="none" stroke="#2b2622" stroke-width="0.7" vector-effect="non-scaling-stroke"/></g>
<circle cx="223.40" cy="287.20" r="1.85" fill="#3f5e93" stroke="#2b2622" stroke-width="0.6"/>
<circle cx="228.10" cy="289.90" r="1.85" fill="#5fae4a" stroke="#2b2622" stroke-width="0.6"/>
<circle cx="213.60" cy="293.30" r="1.85" fill="#c3283f" stroke="#2b2622" stroke-width="0.6"/>
<circle cx="221.90" cy="292.90" r="1.85" fill="#f2c12e" stroke="#2b2622" stroke-width="0.6"/>
<circle cx="218.60" cy="296.10" r="1.85" fill="#c3283f" stroke="#2b2622" stroke-width="0.6"/>
<circle cx="225.40" cy="296.30" r="1.85" fill="#f2c12e" stroke="#2b2622" stroke-width="0.6"/>
<circle cx="232.50" cy="293.60" r="1.85" fill="#c3283f" stroke="#2b2622" stroke-width="0.6"/>
<circle cx="238.10" cy="293.90" r="1.85" fill="#c3283f" stroke="#2b2622" stroke-width="0.6"/>
<circle cx="210.10" cy="297.40" r="1.85" fill="#3f5e93" stroke="#2b2622" stroke-width="0.6"/>
<circle cx="214.70" cy="299.40" r="1.85" fill="#5fae4a" stroke="#2b2622" stroke-width="0.6"/>
<circle cx="231.10" cy="298.80" r="1.85" fill="#3f5e93" stroke="#2b2622" stroke-width="0.6"/>
<circle cx="236.10" cy="299.00" r="1.85" fill="#5fae4a" stroke="#2b2622" stroke-width="0.6"/>
<line x1="236.54" y1="313.25" x2="257.78" y2="289.60" stroke="#231f20" stroke-width="0.6"/>
<line x1="240.92" y1="314.13" x2="252.53" y2="288.50" stroke="#231f20" stroke-width="0.6"/>
<line x1="272.30" y1="302.10" x2="329.90" y2="302.10" stroke="#231f20" stroke-width="0.7"/>
<g transform="translate(286.10,302.10) scale(0.4380,0.1940)"><path d="M0,0 C10,-26 25,-72 46,-87 C54,-92 60,-89 65.5,-82 C67,-94 70,-99 73,-99 C79.5,-99 86,-86 89.3,-66 C91.3,-52 91.6,-36 91.2,-21 C94.5,-14 97.5,-7 100,0 Z" fill="#ffffff" stroke="#2b2622" stroke-width="0.8" vector-effect="non-scaling-stroke"/><path d="M65.8,-83 C64.2,-62 64.2,-40 65.3,-18" fill="none" stroke="#2b2622" stroke-width="0.7" vector-effect="non-scaling-stroke"/></g>
<circle cx="308.40" cy="287.20" r="1.85" fill="#3f5e93" stroke="#2b2622" stroke-width="0.6"/>
<circle cx="313.10" cy="289.90" r="1.85" fill="#3f5e93" stroke="#2b2622" stroke-width="0.6"/>
<circle cx="298.60" cy="293.30" r="1.85" fill="#f2c12e" stroke="#2b2622" stroke-width="0.6"/>
<circle cx="306.90" cy="292.90" r="1.85" fill="#f2c12e" stroke="#2b2622" stroke-width="0.6"/>
<circle cx="303.60" cy="296.10" r="1.85" fill="#5fae4a" stroke="#2b2622" stroke-width="0.6"/>
<circle cx="310.40" cy="296.30" r="1.85" fill="#c3283f" stroke="#2b2622" stroke-width="0.6"/>
<circle cx="317.50" cy="293.60" r="1.85" fill="#5fae4a" stroke="#2b2622" stroke-width="0.6"/>
<circle cx="323.10" cy="293.90" r="1.85" fill="#c3283f" stroke="#2b2622" stroke-width="0.6"/>
<circle cx="295.10" cy="297.40" r="1.85" fill="#3f5e93" stroke="#2b2622" stroke-width="0.6"/>
<circle cx="299.70" cy="299.40" r="1.85" fill="#f2c12e" stroke="#2b2622" stroke-width="0.6"/>
<circle cx="316.10" cy="298.80" r="1.85" fill="#3f5e93" stroke="#2b2622" stroke-width="0.6"/>
<circle cx="321.10" cy="299.00" r="1.85" fill="#c3283f" stroke="#2b2622" stroke-width="0.6"/>
<line x1="321.54" y1="313.25" x2="342.78" y2="289.60" stroke="#231f20" stroke-width="0.6"/>
<line x1="325.92" y1="314.13" x2="337.53" y2="288.50" stroke="#231f20" stroke-width="0.6"/>
<line x1="229.30" y1="342.90" x2="287.50" y2="342.90" stroke="#231f20" stroke-width="0.7"/>
<g transform="translate(243.70,342.90) scale(0.4380,0.1940)"><path d="M0,0 C10,-26 25,-72 46,-87 C54,-92 60,-89 65.5,-82 C67,-94 70,-99 73,-99 C79.5,-99 86,-86 89.3,-66 C91.3,-52 91.6,-36 91.2,-21 C94.5,-14 97.5,-7 100,0 Z" fill="#ffffff" stroke="#2b2622" stroke-width="0.8" vector-effect="non-scaling-stroke"/><path d="M65.8,-83 C64.2,-62 64.2,-40 65.3,-18" fill="none" stroke="#2b2622" stroke-width="0.7" vector-effect="non-scaling-stroke"/></g>
<circle cx="266.00" cy="328.00" r="1.85" fill="#3f5e93" stroke="#2b2622" stroke-width="0.6"/>
<circle cx="270.70" cy="330.70" r="1.85" fill="#5fae4a" stroke="#2b2622" stroke-width="0.6"/>
<circle cx="256.20" cy="334.10" r="1.85" fill="#c3283f" stroke="#2b2622" stroke-width="0.6"/>
<circle cx="264.50" cy="333.70" r="1.85" fill="#f2c12e" stroke="#2b2622" stroke-width="0.6"/>
<circle cx="261.20" cy="336.90" r="1.85" fill="#c3283f" stroke="#2b2622" stroke-width="0.6"/>
<circle cx="268.00" cy="337.10" r="1.85" fill="#f2c12e" stroke="#2b2622" stroke-width="0.6"/>
<circle cx="275.10" cy="334.40" r="1.85" fill="#c3283f" stroke="#2b2622" stroke-width="0.6"/>
<circle cx="280.70" cy="334.70" r="1.85" fill="#c3283f" stroke="#2b2622" stroke-width="0.6"/>
<circle cx="252.70" cy="338.20" r="1.85" fill="#3f5e93" stroke="#2b2622" stroke-width="0.6"/>
<circle cx="257.30" cy="340.20" r="1.85" fill="#5fae4a" stroke="#2b2622" stroke-width="0.6"/>
<circle cx="273.70" cy="339.60" r="1.85" fill="#3f5e93" stroke="#2b2622" stroke-width="0.6"/>
<circle cx="278.70" cy="339.80" r="1.85" fill="#5fae4a" stroke="#2b2622" stroke-width="0.6"/>
<line x1="279.14" y1="354.05" x2="300.38" y2="330.40" stroke="#231f20" stroke-width="0.6"/>
<line x1="283.52" y1="354.93" x2="295.13" y2="329.30" stroke="#231f20" stroke-width="0.6"/>
<text x="83.40" y="366.80" font-size="7.3" fill="#231f20" stroke="#231f20" stroke-width="0.16" text-anchor="start" textLength="36.30" lengthAdjust="spacingAndGlyphs">HIGH <tspan font-style="italic">MtMV</tspan></text>
<text x="244.00" y="366.80" font-size="7.3" fill="#231f20" stroke="#231f20" stroke-width="0.16" text-anchor="start" textLength="33.80" lengthAdjust="spacingAndGlyphs">LOW <tspan font-style="italic">MtMV</tspan></text>
<text x="357.60" y="209.00" font-size="9.0" fill="#231f20" stroke="#231f20" stroke-width="0.096" text-anchor="start" textLength="4.20" lengthAdjust="spacingAndGlyphs">ii</text>
<line x1="378.00" y1="289.80" x2="378.00" y2="205.80" stroke="#231f20" stroke-width="1.4"/>
<path d="M378.00,199.00 L382.20,208.50 L378.00,206.10 L373.80,208.50 Z" fill="#231f20"/>
<line x1="377.30" y1="289.80" x2="486.20" y2="289.80" stroke="#231f20" stroke-width="1.4"/>
<path d="M493.00,289.80 L483.50,294.00 L485.90,289.80 L483.50,285.60 Z" fill="#231f20"/>
<rect x="386.30" y="199.80" width="19.10" height="89.50" fill="url(#gbar)"/>
<rect x="422.30" y="241.20" width="19.20" height="48.10" fill="url(#gbar)"/>
<rect x="456.00" y="274.80" width="18.80" height="14.50" fill="url(#gbar)"/>
<text x="372.30" y="256.00" font-size="8.8" fill="#231f20" stroke="#231f20" stroke-width="0.16" text-anchor="start" textLength="23.40" lengthAdjust="spacingAndGlyphs" transform="rotate(-90 372.30 256.00)">MtMV</text>
<path d="M385,320.2 L475.2,301.2 L475.2,320.2 Z" fill="url(#gtri)" stroke="#231f20" stroke-width="0.5"/>
<text x="393.80" y="330.50" font-size="7.3" fill="#231f20" stroke="#231f20" stroke-width="0.16" text-anchor="start" textLength="66.70" lengthAdjust="spacingAndGlyphs">Number of precursors</text>
<text x="385.50" y="339.50" font-size="7.3" fill="#231f20" stroke="#231f20" stroke-width="0.16" text-anchor="start" textLength="84.50" lengthAdjust="spacingAndGlyphs" xml:space="preserve">(i.e.  initially labeled events)</text>
<text x="398.80" y="348.80" font-size="7.3" fill="#231f20" stroke="#231f20" stroke-width="0.16" text-anchor="start" textLength="58.70" lengthAdjust="spacingAndGlyphs">(clonal complexity)</text>
<text x="7.20" y="390.50" font-size="11.2" fill="#231f20" stroke="#231f20" stroke-width="0.096" text-anchor="start" textLength="7.00" lengthAdjust="spacingAndGlyphs">C</text>
<text x="21.40" y="390.50" font-size="9.4" fill="#231f20" stroke="#231f20" stroke-width="0.096" text-anchor="start">i</text>
<line x1="42.00" y1="394.70" x2="45.00" y2="394.70" stroke="#2e2e30" stroke-width="0.9"/>
<text x="38.40" y="397.10" font-size="6.7" fill="#231f20" stroke="#231f20" stroke-width="0.16" text-anchor="end">40</text>
<line x1="42.00" y1="416.90" x2="45.00" y2="416.90" stroke="#2e2e30" stroke-width="0.9"/>
<text x="38.40" y="419.30" font-size="6.7" fill="#231f20" stroke="#231f20" stroke-width="0.16" text-anchor="end">30</text>
<line x1="42.00" y1="439.10" x2="45.00" y2="439.10" stroke="#2e2e30" stroke-width="0.9"/>
<text x="38.40" y="441.50" font-size="6.7" fill="#231f20" stroke="#231f20" stroke-width="0.16" text-anchor="end">20</text>
<line x1="42.00" y1="461.30" x2="45.00" y2="461.30" stroke="#2e2e30" stroke-width="0.9"/>
<text x="38.40" y="463.70" font-size="6.7" fill="#231f20" stroke="#231f20" stroke-width="0.16" text-anchor="end">10</text>
<line x1="42.00" y1="483.50" x2="45.00" y2="483.50" stroke="#2e2e30" stroke-width="0.9"/>
<text x="38.40" y="485.90" font-size="6.7" fill="#231f20" stroke="#231f20" stroke-width="0.16" text-anchor="end">0</text>
<rect x="47.90" y="426.10" width="6.10" height="57.40" fill="#d4953f"/>
<rect x="59.85" y="424.20" width="6.10" height="59.30" fill="#d4953f"/>
<rect x="71.80" y="418.00" width="6.10" height="65.50" fill="#d4953f"/>
<rect x="83.75" y="418.00" width="6.10" height="65.50" fill="#d4953f"/>
<rect x="95.70" y="415.70" width="6.10" height="67.80" fill="#d4953f"/>
<rect x="107.65" y="421.90" width="6.10" height="61.60" fill="#d4953f"/>
<rect x="119.60" y="427.90" width="6.10" height="55.60" fill="#d4953f"/>
<line x1="45.00" y1="393.00" x2="45.00" y2="484.00" stroke="#2e2e30" stroke-width="1.25"/>
<line x1="44.50" y1="483.50" x2="128.50" y2="483.50" stroke="#231f20" stroke-width="1.0"/>
<line x1="45.00" y1="425.40" x2="128.50" y2="425.40" stroke="#231f20" stroke-width="0.9"/>
<text x="50.90" y="493.10" font-size="7.3" fill="#231f20" stroke="#231f20" stroke-width="0.16" text-anchor="middle">2</text>
<text x="62.80" y="493.10" font-size="7.3" fill="#231f20" stroke="#231f20" stroke-width="0.16" text-anchor="middle">7</text>
<text x="74.70" y="493.10" font-size="7.3" fill="#231f20" stroke="#231f20" stroke-width="0.16" text-anchor="middle">12</text>
<text x="86.60" y="493.10" font-size="7.3" fill="#231f20" stroke="#231f20" stroke-width="0.16" text-anchor="middle">16</text>
<text x="98.60" y="493.10" font-size="7.3" fill="#231f20" stroke="#231f20" stroke-width="0.16" text-anchor="middle">20</text>
<text x="110.50" y="493.10" font-size="7.3" fill="#231f20" stroke="#231f20" stroke-width="0.16" text-anchor="middle">24</text>
<text x="122.50" y="493.10" font-size="7.3" fill="#231f20" stroke="#231f20" stroke-width="0.16" text-anchor="middle">26</text>
<text x="25.60" y="463.20" font-size="8.2" fill="#231f20" stroke="#231f20" stroke-width="0.16" text-anchor="start" textLength="50.60" lengthAdjust="spacingAndGlyphs" transform="rotate(-90 25.60 463.20)">No. of clones</text>
<text x="52.00" y="404.80" font-size="8.0" fill="#d9984a" stroke="#d9984a" stroke-width="0.16" text-anchor="start" textLength="12.30" lengthAdjust="spacingAndGlyphs">E2a</text>
<text x="67.00" y="401.70" font-size="4.0" fill="#d9984a" stroke="#d9984a" stroke-width="0.16" text-anchor="start" textLength="6.40" lengthAdjust="spacingAndGlyphs">Cre</text>
<text x="68.50" y="505.50" font-size="8.5" fill="#231f20" stroke="#231f20" stroke-width="0.16" text-anchor="start" textLength="35.30" lengthAdjust="spacingAndGlyphs">(Months)</text>
<line x1="181.50" y1="395.60" x2="184.50" y2="395.60" stroke="#2e2e30" stroke-width="0.9"/>
<text x="177.10" y="398.00" font-size="6.7" fill="#231f20" stroke="#231f20" stroke-width="0.16" text-anchor="end">1000</text>
<line x1="181.50" y1="413.10" x2="184.50" y2="413.10" stroke="#2e2e30" stroke-width="0.9"/>
<text x="177.10" y="415.50" font-size="6.7" fill="#231f20" stroke="#231f20" stroke-width="0.16" text-anchor="end">800</text>
<line x1="181.50" y1="430.60" x2="184.50" y2="430.60" stroke="#2e2e30" stroke-width="0.9"/>
<text x="177.10" y="433.00" font-size="6.7" fill="#231f20" stroke="#231f20" stroke-width="0.16" text-anchor="end">600</text>
<line x1="181.50" y1="448.20" x2="184.50" y2="448.20" stroke="#2e2e30" stroke-width="0.9"/>
<text x="177.10" y="450.60" font-size="6.7" fill="#231f20" stroke="#231f20" stroke-width="0.16" text-anchor="end">400</text>
<line x1="181.50" y1="465.70" x2="184.50" y2="465.70" stroke="#2e2e30" stroke-width="0.9"/>
<text x="177.10" y="468.10" font-size="6.7" fill="#231f20" stroke="#231f20" stroke-width="0.16" text-anchor="end">200</text>
<line x1="181.50" y1="483.30" x2="184.50" y2="483.30" stroke="#2e2e30" stroke-width="0.9"/>
<text x="177.10" y="485.70" font-size="6.7" fill="#231f20" stroke="#231f20" stroke-width="0.16" text-anchor="end">0</text>
<rect x="187.50" y="420.50" width="6.20" height="62.80" fill="#6a4868"/>
<rect x="199.27" y="439.30" width="6.20" height="44.00" fill="#6a4868"/>
<rect x="211.04" y="411.80" width="6.20" height="71.50" fill="#6a4868"/>
<rect x="222.81" y="437.50" width="6.20" height="45.80" fill="#6a4868"/>
<rect x="234.58" y="452.80" width="6.20" height="30.50" fill="#6a4868"/>
<rect x="246.35" y="450.50" width="6.20" height="32.80" fill="#6a4868"/>
<rect x="258.12" y="452.80" width="6.20" height="30.50" fill="#6a4868"/>
<line x1="184.50" y1="393.00" x2="184.50" y2="483.80" stroke="#2e2e30" stroke-width="1.25"/>
<line x1="184.00" y1="483.30" x2="266.80" y2="483.30" stroke="#231f20" stroke-width="1.0"/>
<line x1="184.50" y1="420.30" x2="266.80" y2="420.30" stroke="#231f20" stroke-width="0.9"/>
<text x="190.60" y="492.90" font-size="7.3" fill="#231f20" stroke="#231f20" stroke-width="0.16" text-anchor="middle">2</text>
<text x="202.40" y="492.90" font-size="7.3" fill="#231f20" stroke="#231f20" stroke-width="0.16" text-anchor="middle">7</text>
<text x="214.20" y="492.90" font-size="7.3" fill="#231f20" stroke="#231f20" stroke-width="0.16" text-anchor="middle">12</text>
<text x="225.90" y="492.90" font-size="7.3" fill="#231f20" stroke="#231f20" stroke-width="0.16" text-anchor="middle">16</text>
<text x="237.70" y="492.90" font-size="7.3" fill="#231f20" stroke="#231f20" stroke-width="0.16" text-anchor="middle">20</text>
<text x="249.50" y="492.90" font-size="7.3" fill="#231f20" stroke="#231f20" stroke-width="0.16" text-anchor="middle">24</text>
<text x="261.20" y="492.90" font-size="7.3" fill="#231f20" stroke="#231f20" stroke-width="0.16" text-anchor="middle">26</text>
<text x="157.30" y="463.00" font-size="8.2" fill="#231f20" stroke="#231f20" stroke-width="0.16" text-anchor="start" textLength="50.20" lengthAdjust="spacingAndGlyphs" transform="rotate(-90 157.30 463.00)">No. of clones</text>
<text x="193.80" y="405.00" font-size="8.0" fill="#78507a" stroke="#78507a" stroke-width="0.16" text-anchor="start" textLength="15.00" lengthAdjust="spacingAndGlyphs">Flk-1</text>
<text x="212.00" y="401.50" font-size="4.0" fill="#78507a" stroke="#78507a" stroke-width="0.16" text-anchor="start" textLength="7.50" lengthAdjust="spacingAndGlyphs">Cre</text>
<text x="207.50" y="505.20" font-size="8.5" fill="#231f20" stroke="#231f20" stroke-width="0.16" text-anchor="start" textLength="35.50" lengthAdjust="spacingAndGlyphs">(Months)</text>
<line x1="315.20" y1="392.60" x2="318.20" y2="392.60" stroke="#2e2e30" stroke-width="0.9"/>
<text x="310.60" y="395.00" font-size="6.7" fill="#231f20" stroke="#231f20" stroke-width="0.16" text-anchor="end">1000</text>
<line x1="315.20" y1="410.70" x2="318.20" y2="410.70" stroke="#2e2e30" stroke-width="0.9"/>
<text x="310.60" y="413.10" font-size="6.7" fill="#231f20" stroke="#231f20" stroke-width="0.16" text-anchor="end">800</text>
<line x1="315.20" y1="428.80" x2="318.20" y2="428.80" stroke="#2e2e30" stroke-width="0.9"/>
<text x="310.60" y="431.20" font-size="6.7" fill="#231f20" stroke="#231f20" stroke-width="0.16" text-anchor="end">600</text>
<line x1="315.20" y1="446.90" x2="318.20" y2="446.90" stroke="#2e2e30" stroke-width="0.9"/>
<text x="310.60" y="449.30" font-size="6.7" fill="#231f20" stroke="#231f20" stroke-width="0.16" text-anchor="end">400</text>
<line x1="315.20" y1="465.00" x2="318.20" y2="465.00" stroke="#2e2e30" stroke-width="0.9"/>
<text x="310.60" y="467.40" font-size="6.7" fill="#231f20" stroke="#231f20" stroke-width="0.16" text-anchor="end">200</text>
<line x1="315.20" y1="483.10" x2="318.20" y2="483.10" stroke="#2e2e30" stroke-width="0.9"/>
<text x="310.60" y="485.50" font-size="6.7" fill="#231f20" stroke="#231f20" stroke-width="0.16" text-anchor="end">0</text>
<rect x="321.00" y="433.30" width="6.00" height="49.80" fill="#6aa64f"/>
<rect x="332.62" y="437.00" width="6.00" height="46.10" fill="#6aa64f"/>
<rect x="344.24" y="438.50" width="6.00" height="44.60" fill="#6aa64f"/>
<rect x="355.86" y="456.00" width="6.00" height="27.10" fill="#6aa64f"/>
<rect x="367.48" y="450.00" width="6.00" height="33.10" fill="#6aa64f"/>
<rect x="379.10" y="448.80" width="6.00" height="34.30" fill="#6aa64f"/>
<rect x="390.72" y="445.00" width="6.00" height="38.10" fill="#6aa64f"/>
<line x1="318.20" y1="390.50" x2="318.20" y2="483.60" stroke="#2e2e30" stroke-width="1.25"/>
<line x1="317.70" y1="483.10" x2="400.00" y2="483.10" stroke="#231f20" stroke-width="1.0"/>
<line x1="318.20" y1="433.30" x2="400.00" y2="433.30" stroke="#231f20" stroke-width="0.9"/>
<text x="324.00" y="492.70" font-size="7.3" fill="#231f20" stroke="#231f20" stroke-width="0.16" text-anchor="middle">2</text>
<text x="335.60" y="492.70" font-size="7.3" fill="#231f20" stroke="#231f20" stroke-width="0.16" text-anchor="middle">7</text>
<text x="347.20" y="492.70" font-size="7.3" fill="#231f20" stroke="#231f20" stroke-width="0.16" text-anchor="middle">12</text>
<text x="358.80" y="492.70" font-size="7.3" fill="#231f20" stroke="#231f20" stroke-width="0.16" text-anchor="middle">16</text>
<text x="370.50" y="492.70" font-size="7.3" fill="#231f20" stroke="#231f20" stroke-width="0.16" text-anchor="middle">20</text>
<text x="382.10" y="492.70" font-size="7.3" fill="#231f20" stroke="#231f20" stroke-width="0.16" text-anchor="middle">24</text>
<text x="393.70" y="492.70" font-size="7.3" fill="#231f20" stroke="#231f20" stroke-width="0.16" text-anchor="middle">26</text>
<text x="289.80" y="462.70" font-size="8.2" fill="#231f20" stroke="#231f20" stroke-width="0.16" text-anchor="start" textLength="50.90" lengthAdjust="spacingAndGlyphs" transform="rotate(-90 289.80 462.70)">No. of clones</text>
<text x="323.20" y="405.20" font-size="8.5" fill="#6fae55" stroke="#6fae55" stroke-width="0.16" text-anchor="start" textLength="9.10" lengthAdjust="spacingAndGlyphs">VE</text>
<text x="335.00" y="400.80" font-size="4.0" fill="#6fae55" stroke="#6fae55" stroke-width="0.16" text-anchor="start" textLength="7.00" lengthAdjust="spacingAndGlyphs">Cre</text>
<text x="341.30" y="505.20" font-size="8.5" fill="#231f20" stroke="#231f20" stroke-width="0.16" text-anchor="start" textLength="35.00" lengthAdjust="spacingAndGlyphs">(Months)</text>
<text x="358.70" y="451.40" font-size="7.5" fill="#231f20" stroke="#231f20" stroke-width="0.16" text-anchor="middle">*</text>
<line x1="42.00" y1="538.00" x2="45.00" y2="538.00" stroke="#2e2e30" stroke-width="0.9"/>
<text x="37.60" y="540.40" font-size="6.7" fill="#231f20" stroke="#231f20" stroke-width="0.16" text-anchor="end">1000</text>
<line x1="42.00" y1="555.90" x2="45.00" y2="555.90" stroke="#2e2e30" stroke-width="0.9"/>
<text x="37.60" y="558.30" font-size="6.7" fill="#231f20" stroke="#231f20" stroke-width="0.16" text-anchor="end">800</text>
<line x1="42.00" y1="573.80" x2="45.00" y2="573.80" stroke="#2e2e30" stroke-width="0.9"/>
<text x="37.60" y="576.20" font-size="6.7" fill="#231f20" stroke="#231f20" stroke-width="0.16" text-anchor="end">600</text>
<line x1="42.00" y1="591.70" x2="45.00" y2="591.70" stroke="#2e2e30" stroke-width="0.9"/>
<text x="37.60" y="594.10" font-size="6.7" fill="#231f20" stroke="#231f20" stroke-width="0.16" text-anchor="end">400</text>
<line x1="42.00" y1="609.60" x2="45.00" y2="609.60" stroke="#2e2e30" stroke-width="0.9"/>
<text x="37.60" y="612.00" font-size="6.7" fill="#231f20" stroke="#231f20" stroke-width="0.16" text-anchor="end">200</text>
<line x1="42.00" y1="627.50" x2="45.00" y2="627.50" stroke="#2e2e30" stroke-width="0.9"/>
<text x="37.60" y="629.90" font-size="6.7" fill="#231f20" stroke="#231f20" stroke-width="0.16" text-anchor="end">0</text>
<rect x="48.00" y="583.00" width="6.00" height="44.50" fill="#485e82"/>
<rect x="59.62" y="580.00" width="6.00" height="47.50" fill="#485e82"/>
<rect x="71.24" y="589.30" width="6.00" height="38.20" fill="#485e82"/>
<rect x="82.86" y="580.00" width="6.00" height="47.50" fill="#485e82"/>
<rect x="94.48" y="583.00" width="6.00" height="44.50" fill="#485e82"/>
<rect x="106.10" y="597.50" width="6.00" height="30.00" fill="#485e82"/>
<rect x="117.72" y="600.00" width="6.00" height="27.50" fill="#485e82"/>
<line x1="45.00" y1="535.00" x2="45.00" y2="628.00" stroke="#2e2e30" stroke-width="1.25"/>
<line x1="44.50" y1="627.50" x2="126.80" y2="627.50" stroke="#231f20" stroke-width="1.0"/>
<line x1="45.00" y1="583.00" x2="126.80" y2="583.00" stroke="#231f20" stroke-width="0.9"/>
<text x="51.00" y="637.10" font-size="7.3" fill="#231f20" stroke="#231f20" stroke-width="0.16" text-anchor="middle">2</text>
<text x="62.60" y="637.10" font-size="7.3" fill="#231f20" stroke="#231f20" stroke-width="0.16" text-anchor="middle">7</text>
<text x="74.20" y="637.10" font-size="7.3" fill="#231f20" stroke="#231f20" stroke-width="0.16" text-anchor="middle">12</text>
<text x="85.80" y="637.10" font-size="7.3" fill="#231f20" stroke="#231f20" stroke-width="0.16" text-anchor="middle">16</text>
<text x="97.50" y="637.10" font-size="7.3" fill="#231f20" stroke="#231f20" stroke-width="0.16" text-anchor="middle">20</text>
<text x="109.10" y="637.10" font-size="7.3" fill="#231f20" stroke="#231f20" stroke-width="0.16" text-anchor="middle">24</text>
<text x="120.70" y="637.10" font-size="7.3" fill="#231f20" stroke="#231f20" stroke-width="0.16" text-anchor="middle">26</text>
<text x="18.10" y="606.20" font-size="8.2" fill="#231f20" stroke="#231f20" stroke-width="0.16" text-anchor="start" textLength="50.20" lengthAdjust="spacingAndGlyphs" transform="rotate(-90 18.10 606.20)">No. of clones</text>
<text x="53.80" y="547.90" font-size="8.2" fill="#46608c" stroke="#46608c" stroke-width="0.16" text-anchor="start" textLength="16.30" lengthAdjust="spacingAndGlyphs">Vav1</text>
<text x="74.20" y="544.60" font-size="4.0" fill="#46608c" stroke="#46608c" stroke-width="0.16" text-anchor="start" textLength="6.70" lengthAdjust="spacingAndGlyphs">Cre</text>
<text x="68.00" y="649.60" font-size="8.5" fill="#231f20" stroke="#231f20" stroke-width="0.16" text-anchor="start" textLength="35.60" lengthAdjust="spacingAndGlyphs">(Months)</text>
<text x="145.80" y="533.20" font-size="9.0" fill="#231f20" stroke="#231f20" stroke-width="0.096" text-anchor="start" textLength="4.40" lengthAdjust="spacingAndGlyphs">ii</text>
<line x1="202.30" y1="548.30" x2="202.30" y2="562.80" stroke="#55575e" stroke-width="1.0"/>
<line x1="199.60" y1="548.30" x2="205.00" y2="548.30" stroke="#55575e" stroke-width="1.0"/>
<line x1="214.00" y1="547.60" x2="214.00" y2="558.10" stroke="#55575e" stroke-width="1.0"/>
<line x1="211.30" y1="547.60" x2="216.70" y2="547.60" stroke="#55575e" stroke-width="1.0"/>
<line x1="225.70" y1="551.50" x2="225.70" y2="571.10" stroke="#55575e" stroke-width="1.0"/>
<line x1="223.00" y1="551.50" x2="228.40" y2="551.50" stroke="#55575e" stroke-width="1.0"/>
<line x1="237.40" y1="555.60" x2="237.40" y2="575.40" stroke="#55575e" stroke-width="1.0"/>
<line x1="234.70" y1="555.60" x2="240.10" y2="555.60" stroke="#55575e" stroke-width="1.0"/>
<line x1="249.10" y1="551.50" x2="249.10" y2="571.10" stroke="#55575e" stroke-width="1.0"/>
<line x1="246.40" y1="551.50" x2="251.80" y2="551.50" stroke="#55575e" stroke-width="1.0"/>
<line x1="260.80" y1="574.30" x2="260.80" y2="581.60" stroke="#55575e" stroke-width="1.0"/>
<line x1="258.10" y1="574.30" x2="263.50" y2="574.30" stroke="#55575e" stroke-width="1.0"/>
<line x1="181.50" y1="541.30" x2="184.50" y2="541.30" stroke="#2e2e30" stroke-width="0.9"/>
<text x="177.70" y="543.70" font-size="6.7" fill="#231f20" stroke="#231f20" stroke-width="0.16" text-anchor="end">1.2</text>
<line x1="181.50" y1="555.60" x2="184.50" y2="555.60" stroke="#2e2e30" stroke-width="0.9"/>
<text x="177.70" y="558.00" font-size="6.7" fill="#231f20" stroke="#231f20" stroke-width="0.16" text-anchor="end">1</text>
<line x1="181.50" y1="570.00" x2="184.50" y2="570.00" stroke="#2e2e30" stroke-width="0.9"/>
<text x="177.70" y="572.40" font-size="6.7" fill="#231f20" stroke="#231f20" stroke-width="0.16" text-anchor="end">0.8</text>
<line x1="181.50" y1="584.40" x2="184.50" y2="584.40" stroke="#2e2e30" stroke-width="0.9"/>
<text x="177.70" y="586.80" font-size="6.7" fill="#231f20" stroke="#231f20" stroke-width="0.16" text-anchor="end">0.6</text>
<line x1="181.50" y1="598.70" x2="184.50" y2="598.70" stroke="#2e2e30" stroke-width="0.9"/>
<text x="177.70" y="601.10" font-size="6.7" fill="#231f20" stroke="#231f20" stroke-width="0.16" text-anchor="end">0.4</text>
<line x1="181.50" y1="613.10" x2="184.50" y2="613.10" stroke="#2e2e30" stroke-width="0.9"/>
<text x="177.70" y="615.50" font-size="6.7" fill="#231f20" stroke="#231f20" stroke-width="0.16" text-anchor="end">0.2</text>
<line x1="181.50" y1="627.50" x2="184.50" y2="627.50" stroke="#2e2e30" stroke-width="0.9"/>
<text x="177.70" y="629.90" font-size="6.7" fill="#231f20" stroke="#231f20" stroke-width="0.16" text-anchor="end">0</text>
<rect x="187.50" y="555.60" width="6.20" height="71.90" fill="#646772"/>
<rect x="199.20" y="562.80" width="6.20" height="64.70" fill="#646772"/>
<rect x="210.90" y="558.10" width="6.20" height="69.40" fill="#646772"/>
<rect x="222.60" y="571.10" width="6.20" height="56.40" fill="#646772"/>
<rect x="234.30" y="575.40" width="6.20" height="52.10" fill="#646772"/>
<rect x="246.00" y="571.10" width="6.20" height="56.40" fill="#646772"/>
<rect x="257.70" y="581.60" width="6.20" height="45.90" fill="#646772"/>
<line x1="184.50" y1="538.80" x2="184.50" y2="628.00" stroke="#2e2e30" stroke-width="1.25"/>
<line x1="184.00" y1="627.50" x2="266.30" y2="627.50" stroke="#231f20" stroke-width="1.0"/>
<line x1="184.50" y1="555.60" x2="266.30" y2="555.60" stroke="#5a5a5e" stroke-width="0.9"/>
<text x="190.80" y="637.10" font-size="7.3" fill="#231f20" stroke="#231f20" stroke-width="0.16" text-anchor="middle">2</text>
<text x="202.10" y="637.10" font-size="7.3" fill="#231f20" stroke="#231f20" stroke-width="0.16" text-anchor="middle">7</text>
<text x="213.60" y="637.10" font-size="7.3" fill="#231f20" stroke="#231f20" stroke-width="0.16" text-anchor="middle">12</text>
<text x="225.30" y="637.10" font-size="7.3" fill="#231f20" stroke="#231f20" stroke-width="0.16" text-anchor="middle">16</text>
<text x="237.00" y="637.10" font-size="7.3" fill="#231f20" stroke="#231f20" stroke-width="0.16" text-anchor="middle">20</text>
<text x="248.60" y="637.10" font-size="7.3" fill="#231f20" stroke="#231f20" stroke-width="0.16" text-anchor="middle">24</text>
<text x="260.30" y="637.10" font-size="7.3" fill="#231f20" stroke="#231f20" stroke-width="0.16" text-anchor="middle">26</text>
<text x="248.60" y="551.40" font-size="7.5" fill="#231f20" stroke="#231f20" stroke-width="0.16" text-anchor="middle">*</text>
<text x="260.40" y="574.40" font-size="7.5" fill="#231f20" stroke="#231f20" stroke-width="0.16" text-anchor="middle">*</text>
<text x="152.50" y="616.30" font-size="8.2" fill="#231f20" stroke="#231f20" stroke-width="0.16" text-anchor="start" textLength="63.80" lengthAdjust="spacingAndGlyphs" transform="rotate(-90 152.50 616.30)">Average relative</text>
<text x="162.90" y="612.40" font-size="8.2" fill="#231f20" stroke="#231f20" stroke-width="0.16" text-anchor="start" textLength="56.40" lengthAdjust="spacingAndGlyphs" transform="rotate(-90 162.90 612.40)">PB complexity</text>
<text x="207.50" y="649.20" font-size="8.5" fill="#231f20" stroke="#231f20" stroke-width="0.16" text-anchor="start" textLength="35.10" lengthAdjust="spacingAndGlyphs">(Months)</text>
<rect x="0.00" y="0.00" width="520.00" height="1.00" fill="#4a4a4a"/>
<rect x="0.00" y="0.00" width="1.20" height="7.30" fill="#111111"/>
<rect x="518.00" y="0.00" width="2.00" height="7.30" fill="#4a4a4a"/>
<rect x="0.00" y="657.00" width="520.00" height="2.00" fill="#4a4a4a"/>
</svg></body></html>
